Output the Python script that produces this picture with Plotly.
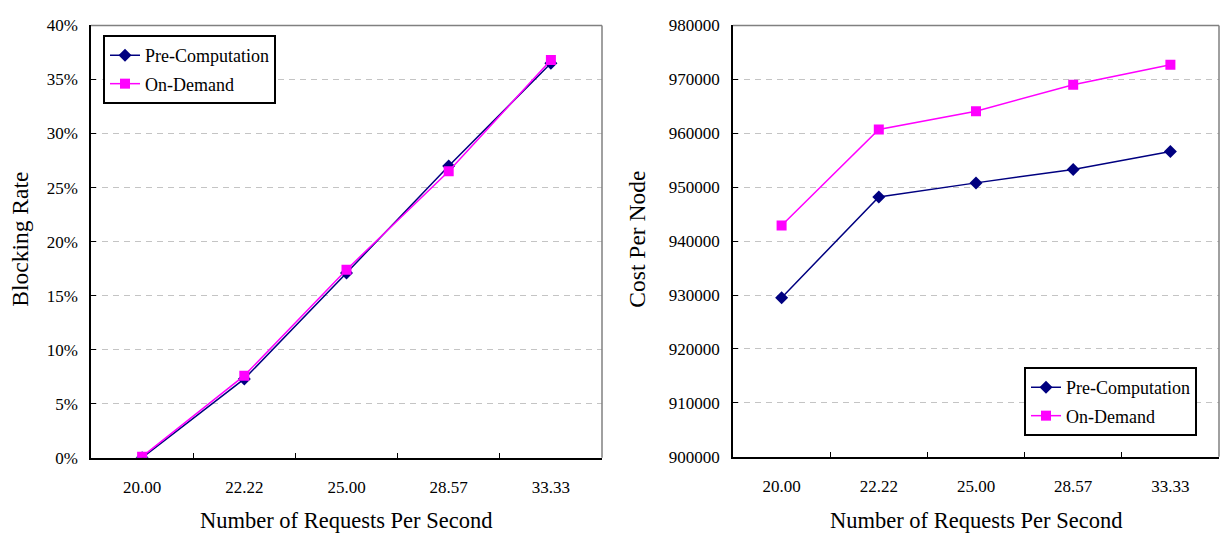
import plotly.graph_objects as go

# Request rates (categories shared by both panels)
request_rates = ["20.00", "22.22", "25.00", "28.57", "33.33"]

# Blocking rate in percent
blocking_pre = [0.0, 7.3, 17.1, 27.0, 36.5]
blocking_demand = [0.1, 7.6, 17.4, 26.5, 36.8]

# Cost per node
cost_pre = [929500, 948200, 950800, 953300, 956600]
cost_demand = [942900, 960700, 964100, 969000, 972700]

series_names = ["Pre-Computation", "On-Demand"]

FONT = "Liberation Serif"
NAVY = "#000080"
MAGENTA = "#FF00FF"

fig = go.Figure()

def add_pair(xref, yref, legend, pre, demand):
    fig.add_trace(go.Scatter(
        x=request_rates, y=pre, name=series_names[0], mode="lines+markers",
        line=dict(color=NAVY, width=1.5),
        marker=dict(symbol="diamond", size=10, color=NAVY),
        xaxis=xref, yaxis=yref, legend=legend, legendgroup=legend + "a",
    ))
    fig.add_trace(go.Scatter(
        x=request_rates, y=demand, name=series_names[1], mode="lines+markers",
        line=dict(color=MAGENTA, width=1.5),
        marker=dict(symbol="square", size=10, color=MAGENTA),
        xaxis=xref, yaxis=yref, legend=legend, legendgroup=legend + "b",
    ))

add_pair("x", "y", "legend", blocking_pre, blocking_demand)
add_pair("x2", "y2", "legend2", cost_pre, cost_demand)

W, H = 1223, 545
tick_font = dict(family=FONT, size=17, color="black")

xcommon = dict(
    type="category", tickson="boundaries", range=[-0.5, 4.5],
    ticks="inside", ticklen=5, tickcolor="black", tickwidth=1,
    showline=True, linecolor="black", linewidth=1.5,
    showgrid=False, tickfont=tick_font, ticklabelstandoff=13,
)
ycommon = dict(
    ticks="inside", ticklen=5, tickcolor="black", tickwidth=1,
    showline=True, linecolor="black", linewidth=1.5,
    showgrid=True, gridcolor="#c4c4c4", gridwidth=1, griddash="6px,5px",
    zeroline=False, tickfont=tick_font, ticklabelstandoff=8,
)

legend_common = dict(
    xanchor="left", yanchor="top",
    bgcolor="white", bordercolor="black", borderwidth=2,
    font=dict(family=FONT, size=18, color="black"),
    tracegroupgap=2,
)

fig.update_layout(
    width=W, height=H,
    margin=dict(l=0, r=0, t=0, b=0),
    paper_bgcolor="white", plot_bgcolor="white",
    showlegend=True,
    xaxis=dict(domain=[91 / W, 602 / W], anchor="y", **xcommon),
    yaxis=dict(domain=[1 - 465 / H, 1 - 17 / H], anchor="x",
               range=[0, 40], dtick=5, ticksuffix="%", **ycommon),
    xaxis2=dict(domain=[733 / W, 1219 / W], anchor="y2", **xcommon),
    yaxis2=dict(domain=[1 - 464 / H, 1 - 17 / H], anchor="x2",
                range=[900000, 980000], dtick=10000, tickformat="d", **ycommon),
    legend=dict(x=103 / W, y=1 - 27 / H, **legend_common),
    legend2=dict(x=1024 / W, y=1 - 371 / H, **legend_common),
)

# Plot-area frame: top and right edges in grey
for xd, yd in (("x domain", "y domain"), ("x2 domain", "y2 domain")):
    fig.add_shape(type="line", xref=xd, yref=yd, x0=0, x1=1, y0=1, y1=1,
                  line=dict(color="#808080", width=1.5), layer="above")
    fig.add_shape(type="line", xref=xd, yref=yd, x0=1, x1=1, y0=0, y1=1,
                  line=dict(color="#808080", width=1.5), layer="above")

titles = [
    ("Number of Requests Per Second", 346 / W, 1 - 530 / H, 0, 22.5),
    ("Number of Requests Per Second", 976 / W, 1 - 530 / H, 0, 22.5),
    ("Blocking Rate", 20 / W, 1 - 239 / H, -90, 23.5),
    ("Cost Per Node", 637 / W, 1 - 239 / H, -90, 23.5),
]
for text, x, y, angle, size in titles:
    fig.add_annotation(text=text, x=x, y=y, xref="paper", yref="paper",
                       xanchor="center", yanchor="middle", showarrow=False,
                       textangle=angle,
                       font=dict(family=FONT, size=size, color="black"))

fig.write_html("out.html")
